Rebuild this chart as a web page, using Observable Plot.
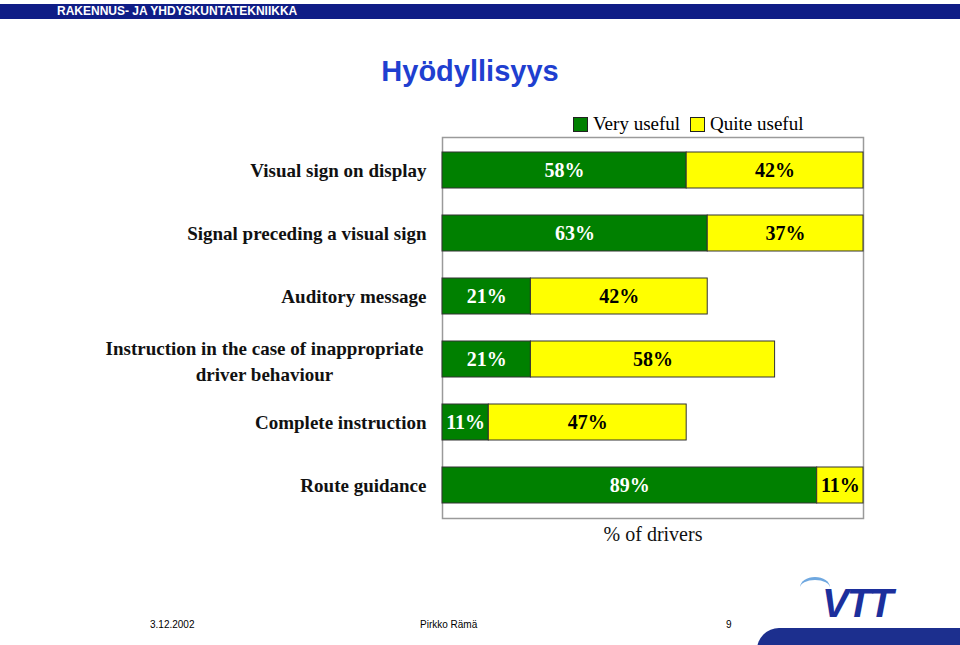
<!DOCTYPE html>
<html><head><meta charset="utf-8">
<script src="https://cdn.jsdelivr.net/npm/d3@7"></script>
<script src="https://cdn.jsdelivr.net/npm/@observablehq/plot@0.6"></script>
<style>
html,body{margin:0;padding:0;background:#fff;}
#page{position:relative;width:960px;height:645px;overflow:hidden;font-family:"Liberation Sans",Arial,sans-serif;}
#hdr{position:absolute;left:0;top:4px;width:960px;height:15px;background:#0f1d86;color:#fff;font-weight:bold;font-size:12px;line-height:15px;}
#hdr span{position:absolute;left:57px;}
#title{position:absolute;left:0;width:940px;top:55px;text-align:center;color:#1f3fd0;font-weight:bold;font-size:29px;}
#chart{position:absolute;left:0;top:0;}
#legend{position:absolute;left:573px;top:113px;font-family:"Liberation Serif","Times New Roman",serif;font-size:19px;display:flex;align-items:center;}
#legend .sw{width:13px;height:13px;border:1px solid #222;display:inline-block;margin-right:5px;}
#legend .it{display:flex;align-items:center;margin-right:10px;}
.ft{position:absolute;top:619px;font-size:10px;color:#000;}
#vtt{position:absolute;left:822px;top:583px;font-size:40px;font-weight:bold;font-style:italic;color:#1c2f9c;letter-spacing:-2px;font-family:"Liberation Sans",Arial,sans-serif;line-height:40px;}
#wave{position:absolute;left:800px;top:577px;width:30px;height:18px;border-top:3px solid #6fa8e0;border-radius:50% 50% 0 0;}
#blob{position:absolute;left:757px;top:628px;width:240px;height:30px;background:#1c2f8e;border-radius:22px 0 0 0;}
</style></head>
<body><div id="page">
<div id="hdr"><span>RAKENNUS- JA YHDYSKUNTATEKNIIKKA</span></div>
<div id="title">Hyödyllisyys</div>
<div id="chart"></div>
<div id="legend"></div>
<div class="ft" style="left:150px">3.12.2002</div>
<div class="ft" style="left:420px">Pirkko Rämä</div>
<div class="ft" style="left:726px">9</div>
<div id="wave"></div>
<div id="vtt">VTT</div>
<div id="blob"></div>
</div>
<script>
const categories = [
  "Visual sign on display",
  "Signal preceding a visual sign",
  "Auditory message",
  "Instruction in the case of inappropriate\ndriver behaviour",
  "Complete instruction",
  "Route guidance"
];
const series = ["Very useful", "Quite useful"];
const colors = ["#008000", "#ffff00"];
const labelColors = ["#ffffff", "#000000"];
const veryUseful = [58, 63, 21, 21, 11, 89];
const quiteUseful = [42, 37, 42, 58, 47, 11];
const xLabel = "% of drivers";

const data = [];
categories.forEach((c, i) => {
  data.push({category: c, series: series[0], value: veryUseful[i]});
  data.push({category: c, series: series[1], value: quiteUseful[i]});
});

const serif = "'Liberation Serif','Times New Roman',serif";
const single = categories.filter(c => !c.includes("\n"));
const multi = categories.filter(c => c.includes("\n"));

const chart = Plot.plot({
  width: 960,
  height: 560,
  marginLeft: 442,
  marginRight: 97,
  marginTop: 137,
  marginBottom: 42,
  style: {fontFamily: serif, background: "transparent"},
  x: {domain: [0, 100], axis: null},
  y: {domain: categories, paddingInner: 0.43, paddingOuter: 0.215, axis: null},
  color: {domain: series, range: colors},
  marks: [
    Plot.frame({stroke: "#9a9a9a", strokeWidth: 1.5}),
    Plot.barX(data, {x: "value", y: "category", fill: "series", stroke: "#333", strokeWidth: 1, order: series}),
    Plot.text(data, Plot.stackX({x: "value", y: "category", z: "series", order: series,
      text: d => d.value + "%",
      fill: d => labelColors[series.indexOf(d.series)],
      fontSize: 20, fontWeight: "bold"})),
    Plot.axisY({ticks: single, tickSize: 0, tickPadding: 16, fontSize: 19, fontWeight: "bold", fill: "#111", label: null}),
    Plot.text(multi, {y: d => d, frameAnchor: "left", dx: -178, textAnchor: "middle", text: d => d, fontSize: 19, fontWeight: "bold", fill: "#111", lineHeight: 1.4}),
    Plot.text([xLabel], {frameAnchor: "bottom", dy: 22, text: d => d, fontSize: 20, fill: "#111"})
  ]
});
document.getElementById("chart").appendChild(chart);

const lg = document.getElementById("legend");
series.forEach((s, i) => {
  const it = document.createElement("div");
  it.className = "it";
  it.innerHTML = `<span class="sw" style="background:${colors[i]}"></span><span>${s}</span>`;
  lg.appendChild(it);
});
</script>
</body></html>
